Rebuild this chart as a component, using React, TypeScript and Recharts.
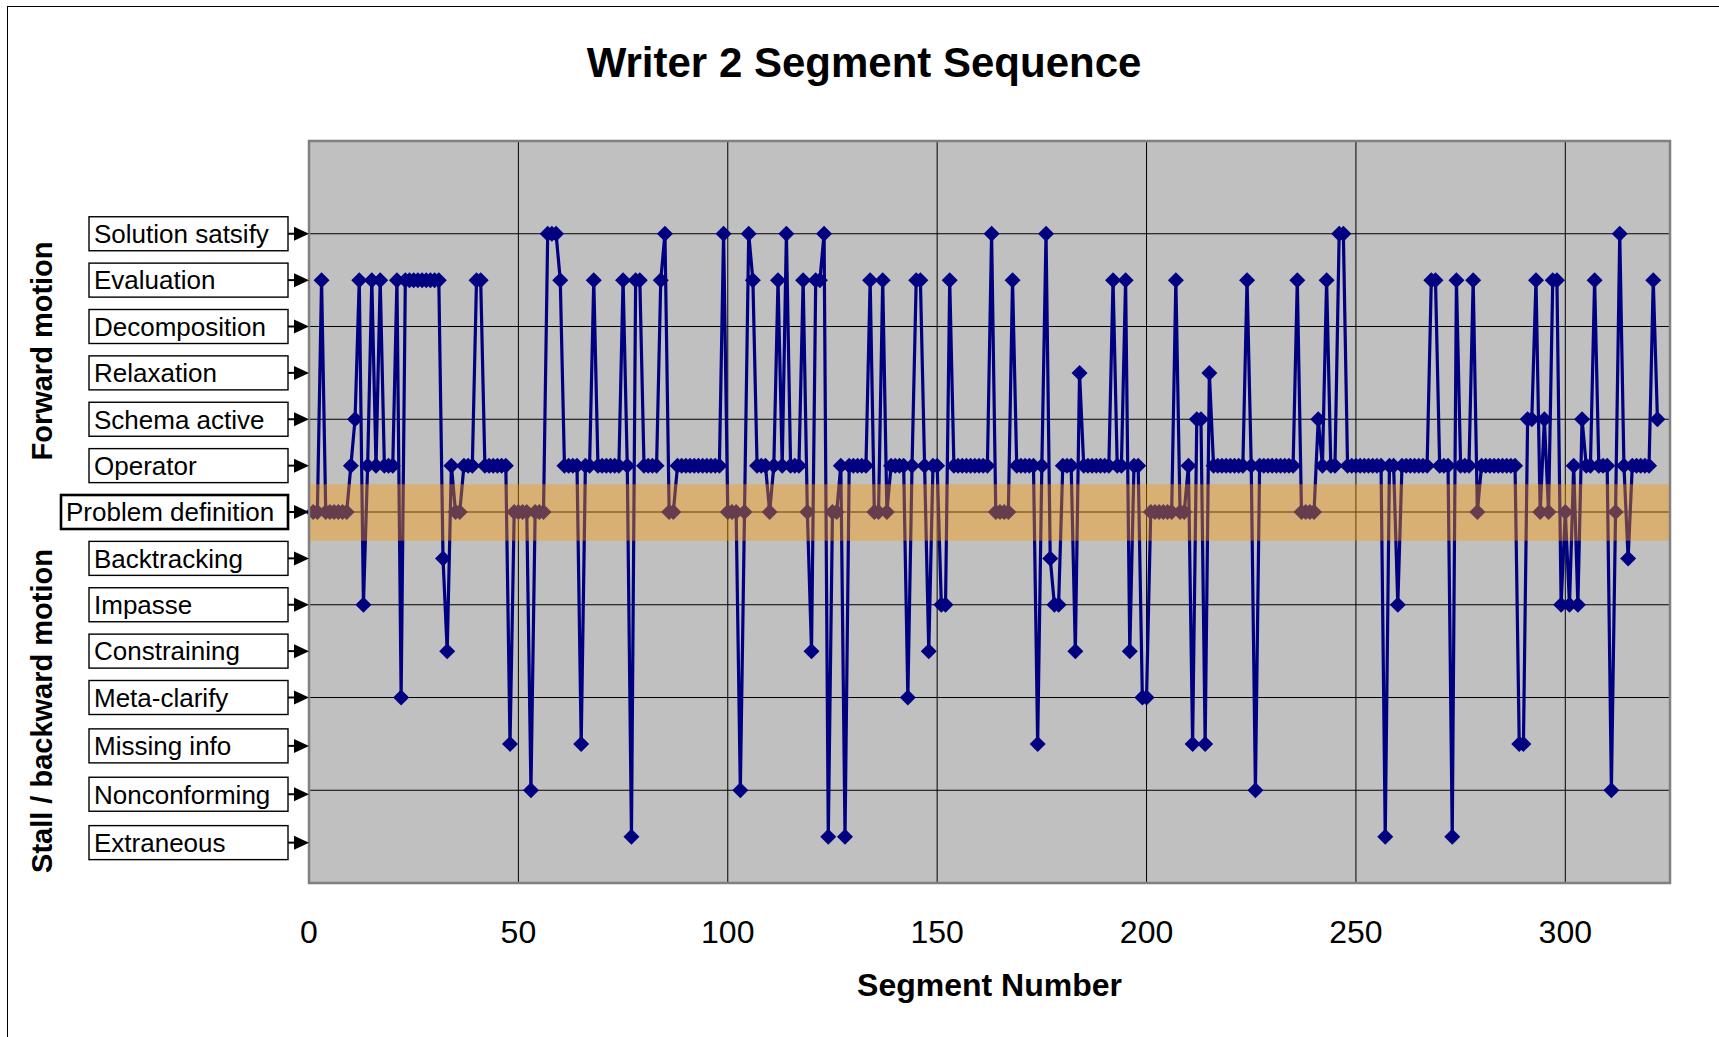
import React from "react";
import { LineChart, Line, XAxis, YAxis, CartesianGrid, ReferenceArea } from "recharts";

// category labels, bottom (1) to top (14)
const LEVELS = [
  "Extraneous",
  "Nonconforming",
  "Missing info",
  "Meta-clarify",
  "Constraining",
  "Impasse",
  "Backtracking",
  "Problem definition",
  "Operator",
  "Schema active",
  "Relaxation",
  "Decomposition",
  "Evaluation",
  "Solution satsify",
];
const LEVEL_TICKS = [1, 2, 3, 4, 5, 6, 7, 8, 9, 10, 11, 12, 13, 14];
const GRID_LEVELS = [2, 4, 6, 8, 10, 12, 14];
const X_TICKS = [0, 50, 100, 150, 200, 250, 300];
const X_GRID = [50, 100, 150, 200, 250, 300];

// level of each segment, segment 1..322
const SEGMENT_LEVELS = [
  8, 8, 13, 8, 8, 8, 8, 8, 8, 9, // 1-10
  10, 13, 6, 9, 13, 9, 13, 9, 9, 9,
  13, 4, 13, 13, 13, 13, 13, 13, 13, 13,
  13, 7, 5, 9, 8, 8, 9, 9, 9, 13,
  13, 9, 9, 9, 9, 9, 9, 3, 8, 8, // 41-50
  8, 8, 2, 8, 8, 8, 14, 14, 14, 13,
  9, 9, 9, 9, 3, 9, 9, 13, 9, 9,
  9, 9, 9, 9, 13, 9, 1, 13, 13, 9,
  9, 9, 9, 13, 14, 8, 8, 9, 9, 9,
  9, 9, 9, 9, 9, 9, 9, 9, 14, 8, // 91-100
  8, 8, 2, 8, 14, 13, 9, 9, 9, 8,
  9, 13, 9, 14, 9, 9, 9, 13, 8, 5,
  13, 13, 14, 1, 8, 8, 9, 1, 9, 9,
  9, 9, 9, 13, 8, 8, 13, 8, 9, 9,
  9, 9, 4, 9, 13, 13, 9, 5, 9, 9, // 141-150
  6, 6, 13, 9, 9, 9, 9, 9, 9, 9,
  9, 9, 14, 8, 8, 8, 8, 13, 9, 9,
  9, 9, 9, 3, 9, 14, 7, 6, 6, 9,
  9, 9, 5, 11, 9, 9, 9, 9, 9, 9,
  9, 13, 9, 9, 13, 5, 9, 9, 4, 4, // 191-200
  8, 8, 8, 8, 8, 8, 13, 8, 8, 9,
  3, 10, 10, 3, 11, 9, 9, 9, 9, 9,
  9, 9, 9, 13, 9, 2, 9, 9, 9, 9,
  9, 9, 9, 9, 9, 13, 8, 8, 8, 8,
  10, 9, 13, 9, 9, 14, 14, 9, 9, 9, // 241-250
  9, 9, 9, 9, 9, 9, 1, 9, 9, 6,
  9, 9, 9, 9, 9, 9, 9, 13, 13, 9,
  9, 9, 1, 13, 9, 9, 9, 13, 8, 9,
  9, 9, 9, 9, 9, 9, 9, 9, 3, 3,
  10, 10, 13, 8, 10, 8, 13, 13, 6, 8, // 291-300
  6, 9, 6, 10, 9, 9, 13, 9, 9, 9,
  2, 8, 14, 9, 7, 9, 9, 9, 9, 9,
  13, 10,
];

const data = SEGMENT_LEVELS.map((level, i) => ({ seg: i + 1, level }));

const W = 1719;
const H = 1037;
const PLOT_LEFT = 309;
const PLOT_TOP = 141;
const PLOT_RIGHT = 1670;
const PLOT_BOTTOM = 883;
const FONT = "'Liberation Sans', Arial, sans-serif";
const NAVY = "#000080";

// label boxes drift a little from the levels near the bottom
const LABEL_NUDGE: Record<string, number> = {
  "Missing info": 2,
  Nonconforming: 4,
  Extraneous: 6,
};

function LevelTick(props: any) {
  const { y, payload } = props;
  const name = LEVELS[payload.value - 1];
  if (!name) return null;
  const pd = name === "Problem definition";
  const left = pd ? 61 : 89;
  const right = 288;
  const cy = y + (LABEL_NUDGE[name] || 0);
  return (
    <g>
      <rect
        x={left}
        y={cy - 17}
        width={right - left}
        height={34}
        fill="#fff"
        stroke="#000"
        strokeWidth={pd ? 2.6 : 1.4}
      />
      <text x={left + 5} y={cy + 9.3} fontSize={26} fontFamily={FONT} fill="#000">
        {name}
      </text>
      <line x1={right} y1={cy} x2={298} y2={cy} stroke="#000" strokeWidth={2} />
      <path d={`M294,${cy - 7} L309,${cy} L294,${cy + 7} Z`} fill="#000" />
    </g>
  );
}

function SegTick(props: any) {
  const { x, payload } = props;
  return (
    <text x={x} y={PLOT_BOTTOM + 60} textAnchor="middle" fontSize={32} fontFamily={FONT} fill="#000">
      {payload.value}
    </text>
  );
}

function renderDiamond(props: any) {
  const { cx, cy, index } = props;
  if (cx == null || cy == null) return <g key={`d-${index}`} />;
  const r = 8;
  return (
    <path
      key={`d-${index}`}
      d={`M${cx},${cy - r} L${cx + r},${cy} L${cx},${cy + r} L${cx - r},${cy} Z`}
      fill={NAVY}
      stroke="none"
    />
  );
}

export default function App() {
  return (
    <div style={{ position: "fixed", left: 0, top: 0, width: W, height: H, background: "#fff", overflow: "hidden" }}>
      <div
        style={{
          position: "absolute",
          left: 7,
          top: 6,
          width: W + 100,
          height: H + 100,
          borderLeft: "1px solid #000",
          borderTop: "1px solid #000",
        }}
      />
      <div style={{ position: "absolute", left: 0, top: 0 }}>
        <LineChart
          width={W}
          height={H}
          data={data}
          margin={{ top: PLOT_TOP, right: W - PLOT_RIGHT, bottom: 0, left: 0 }}
        >
          <CartesianGrid
            fill="#C0C0C0"
            stroke="#000"
            strokeWidth={1}
            horizontalValues={GRID_LEVELS}
            verticalValues={X_GRID}
          />
          <XAxis
            dataKey="seg"
            type="number"
            domain={[0, 325]}
            ticks={X_TICKS}
            height={H - PLOT_BOTTOM}
            tickLine={false}
            axisLine={false}
            tick={<SegTick />}
            interval={0}
          />
          <YAxis
            type="number"
            domain={[0, 16]}
            ticks={LEVEL_TICKS}
            width={PLOT_LEFT}
            tickLine={false}
            axisLine={false}
            tick={<LevelTick />}
            interval={0}
          />
          <Line
            type="linear"
            dataKey="level"
            stroke={NAVY}
            strokeWidth={3.2}
            dot={renderDiamond}
            activeDot={false}
            isAnimationActive={false}
          />
          <ReferenceArea
            x1={0}
            x2={325}
            y1={7.38}
            y2={8.6}
            fill="#FF9900"
            fillOpacity={0.4}
            stroke="none"
            zIndex={1000}
          />
          <ReferenceArea
            x1={0}
            x2={325}
            y1={0}
            y2={16}
            fill="none"
            stroke="#808080"
            strokeWidth={2.5}
            zIndex={1001}
          />
        </LineChart>
      </div>
      <svg width={W} height={H} style={{ position: "absolute", left: 0, top: 0, pointerEvents: "none" }}>
        <text x={864} y={77} textAnchor="middle" fontSize={42} fontWeight="bold" fontFamily={FONT}>
          Writer 2 Segment Sequence
        </text>
        <text
          x={(PLOT_LEFT + PLOT_RIGHT) / 2}
          y={996}
          textAnchor="middle"
          fontSize={32}
          fontWeight="bold"
          fontFamily={FONT}
        >
          Segment Number
        </text>
        <text
          transform="translate(52,351) rotate(-90)"
          textAnchor="middle"
          fontSize={29}
          fontWeight="bold"
          fontFamily={FONT}
        >
          Forward motion
        </text>
        <text
          transform="translate(52,711) rotate(-90)"
          textAnchor="middle"
          fontSize={29}
          fontWeight="bold"
          fontFamily={FONT}
        >
          Stall / backward motion
        </text>
      </svg>
    </div>
  );
}
